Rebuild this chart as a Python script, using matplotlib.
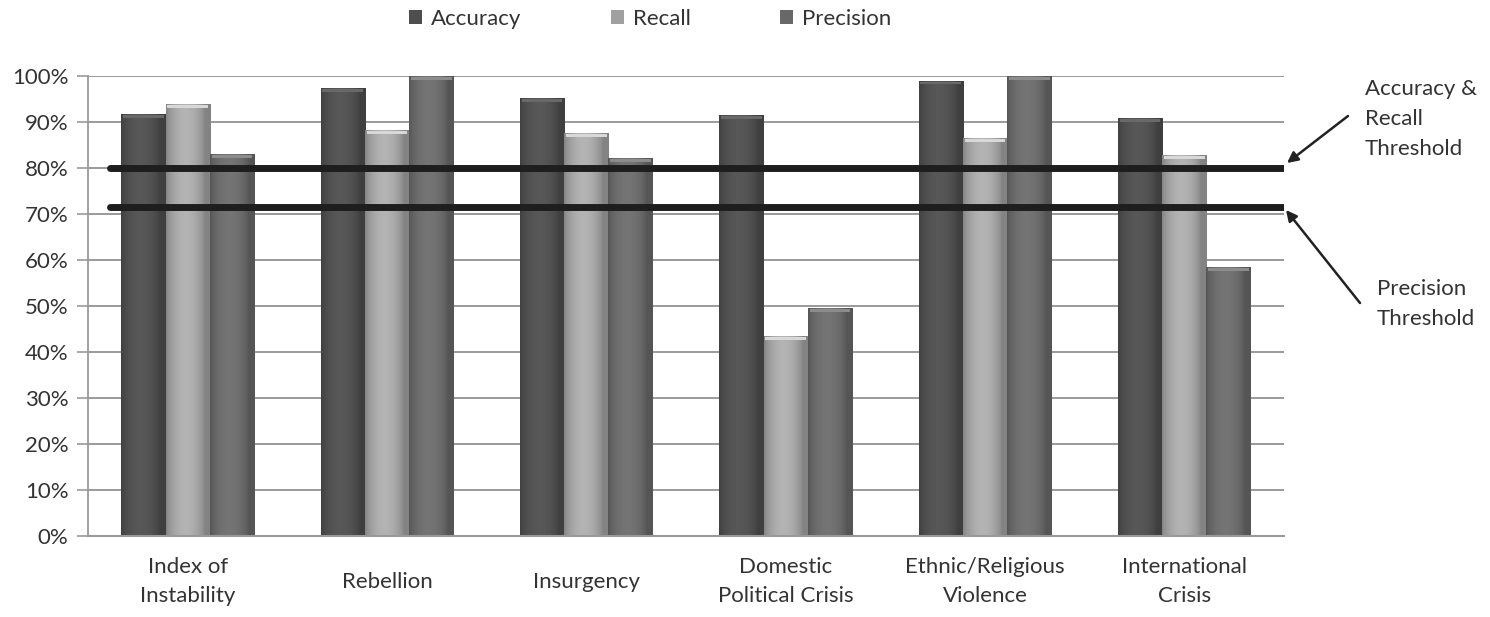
import matplotlib
matplotlib.use("Agg")
import matplotlib.pyplot as plt
import numpy as np
from matplotlib.patches import Patch

categories = ["Index of\nInstability", "Rebellion", "Insurgency",
              "Domestic\nPolitical Crisis", "Ethnic/Religious\nViolence", "International\nCrisis"]
series_names = ["Accuracy", "Recall", "Precision"]
accuracy = [0.917, 0.974, 0.952, 0.915, 0.990, 0.909]
recall = [0.939, 0.883, 0.876, 0.435, 0.865, 0.828]
precision = [0.830, 1.000, 0.822, 0.496, 1.000, 0.585]
thresholds = [0.80, 0.716]
ytick_vals = [i / 10 for i in range(11)]
ytick_labels = [f"{i*10}%" for i in range(11)]

colors = ["#4e4e4e", "#a0a0a0", "#686868"]
plt.rcParams['font.family'] = ['Lato', 'DejaVu Sans']
FS = 16

fig = plt.figure(figsize=(14.9, 6.17), dpi=100)
ax = fig.add_axes([88/1490, 1-536/617, (1284-88)/1490, (536-76)/617])

x = np.arange(len(categories))
w = 0.222
data = [accuracy, recall, precision]
offsets = [-w, 0, w]

t = np.linspace(0, 1, 64)
prof = 0.82 + 0.30 * np.sin(np.pi * np.clip(t * 1.15, 0, 1)) ** 0.7

for vals, off, col in zip(data, offsets, colors):
    bars = ax.bar(x + off, vals, width=w, color=col, zorder=2, linewidth=0)
    base = np.array(matplotlib.colors.to_rgb(col))
    img = np.clip(base[None, None, :] * prof[None, :, None], 0, 1)
    for b in bars:
        x0, y0 = b.get_x(), b.get_y()
        bw, bh = b.get_width(), b.get_height()
        im = ax.imshow(img, extent=[x0, x0 + bw, y0, y0 + bh], aspect='auto',
                       zorder=2.1, interpolation='bilinear')
        im.set_clip_path(b)
        ax.bar(x0 + bw/2, 0.006, width=bw*0.92, bottom=y0 + bh - 0.008,
               color=np.clip(base * 1.35, 0, 1), zorder=2.2, linewidth=0)

ax.set_xlim(-0.5, 5.5)
ax.set_ylim(0, 1.0)
ax.set_yticks(ytick_vals)
ax.set_yticklabels(ytick_labels, fontsize=FS, color="#333333")
ax.set_xticks(x)
ax.set_xticklabels(categories, fontsize=FS, color="#333333", linespacing=1.55)
for lab in ax.get_xticklabels():
    lab.set_va('center')
ax.tick_params(axis='x', length=0, pad=33)
ax.tick_params(axis='y', length=8, width=1.2, color="#999999", pad=6)
ax.yaxis.grid(True, color="#9a9a9a", linewidth=1.4, zorder=0)
ax.set_axisbelow(True)
for s in ['top', 'right']:
    ax.spines[s].set_visible(False)
ax.spines['left'].set_color("#999999")
ax.spines['left'].set_linewidth(1.3)
ax.spines['bottom'].set_color("#999999")
ax.spines['bottom'].set_linewidth(1.5)

for th in thresholds:
    ax.hlines(th, -0.39, 5.5, color="#1e1e1e", linewidth=5, zorder=5,
              capstyle='round')

fig.text(1365/1490, 1-79/617, "Accuracy &\nRecall\nThreshold", fontsize=FS,
         color="#333333", ha='left', va='top', linespacing=1.62)
fig.text(1377/1490, 1-279/617, "Precision\nThreshold", fontsize=FS,
         color="#333333", ha='left', va='top', linespacing=1.62)
ax.annotate("", xy=(1287/1490, 1-163/617), xytext=(1348/1490, 1-116/617),
            xycoords='figure fraction', textcoords='figure fraction',
            arrowprops=dict(arrowstyle='-|>', color="#222222", lw=1.8,
                            mutation_scale=16, shrinkA=0, shrinkB=0))
ax.annotate("", xy=(1286/1490, 1-210/617), xytext=(1360/1490, 1-303/617),
            xycoords='figure fraction', textcoords='figure fraction',
            arrowprops=dict(arrowstyle='-|>', color="#222222", lw=1.8,
                            mutation_scale=16, shrinkA=0, shrinkB=0))

handles = [Patch(facecolor=c, edgecolor='none') for c in colors]
fig.legend(handles, series_names, loc='center', bbox_to_anchor=(650/1490, 1-19/617),
           ncol=3, frameon=False, fontsize=FS, handlelength=0.6, handleheight=0.6,
           handletextpad=0.4, columnspacing=4.0, labelcolor="#333333")

fig.savefig("out.png", dpi=100)
